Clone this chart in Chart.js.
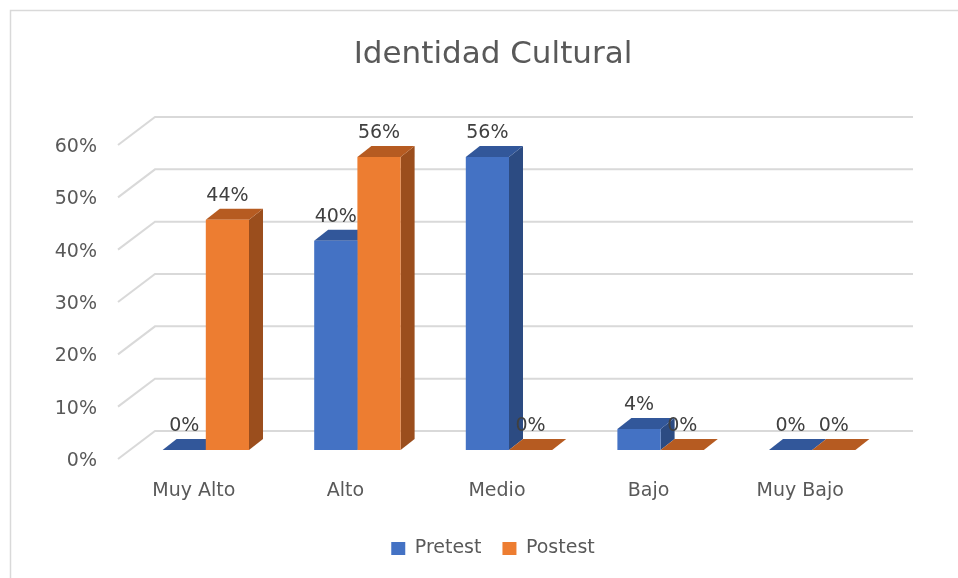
<!DOCTYPE html>
<html>
<head>
<meta charset="utf-8">
<script src="https://cdn.jsdelivr.net/npm/chart.js@4.4.1/dist/chart.umd.min.js"></script>
<style>
    body { margin: 0; background: #fff; }
    #wrap { width: 958px; height: 578px; }
</style>
</head>
<body>
<div id="wrap"><canvas id="chart"></canvas></div>
<script>
const categories = ['Muy Alto', 'Alto', 'Medio', 'Bajo', 'Muy Bajo']
const pretest = [0, 0.40, 0.56, 0.04, 0]
const postest = [0.44, 0.56, 0, 0, 0]
const yTickLabels = ['0%', '10%', '20%', '30%', '40%', '50%', '60%']

const FONT = "'DejaVu Sans', sans-serif"
const TEXT = '#595959'

// colores: frente, tapa, lateral
const blue = ['#4472c4', '#32579a', '#2c4b82']
const orange = ['#ed7d31', '#b65b21', '#9b4e1d']

// desplazamientos de la perspectiva 3D
const depth = { dx: 14, dy: -11 }
const back = { dx: 25, dy: -19 }
const front = { dx: -12, dy: 9 }



const poly = (ctx, pts, color) => {
    ctx.beginPath()
    pts.forEach(([x, y], i) => i ? ctx.lineTo(x, y) : ctx.moveTo(x, y))
    ctx.closePath()
    ctx.fillStyle = color
    ctx.fill()
}



// Fondo y marco del gráfico
const frame = {
    id: 'frame',
    beforeDraw: (chart) => {
        const ctx = chart.ctx
        ctx.save()
        ctx.fillStyle = '#fff'
        ctx.fillRect(0, 0, chart.width, chart.height)
        ctx.strokeStyle = '#d9d9d9'
        ctx.lineWidth = 1.5
        ctx.beginPath()
        ctx.moveTo(10.5, chart.height)
        ctx.lineTo(10.5, 10.5)
        ctx.lineTo(chart.width, 10.5)
        ctx.stroke()
        ctx.restore()
    }
}



// Rejilla en perspectiva, caras 3D de las barras y etiquetas de datos
const bars3d = {
    id: 'bars3d',
    beforeDatasetsDraw: (chart) => {
        const { ctx, chartArea: area, scales: { y } } = chart
        ctx.save()

        ctx.strokeStyle = '#d9d9d9'
        ctx.lineWidth = 2
        y.ticks.forEach(t => {
            const py = y.getPixelForValue(t.value)
            ctx.beginPath()
            ctx.moveTo(area.left + front.dx, py + front.dy)
            ctx.lineTo(area.left + back.dx, py + back.dy)
            ctx.lineTo(area.right + back.dx, py + back.dy)
            ctx.stroke()
        })

        const colors = [blue, orange]
        categories.forEach((c, i) => {
            chart.data.datasets.forEach((ds, d) => {
                const el = chart.getDatasetMeta(d).data[i]
                const { x, y: top, base, width } = el.getProps(['x', 'y', 'base', 'width'], true)
                const l = x - width / 2
                const r = x + width / 2
                poly(ctx, [[r, top], [r + depth.dx, top + depth.dy], [r + depth.dx, base + depth.dy], [r, base]], colors[d][2])
                poly(ctx, [[l, top], [r, top], [r + depth.dx, top + depth.dy], [l + depth.dx, top + depth.dy]], colors[d][1])
            })
        })
        ctx.restore()
    },
    afterDatasetsDraw: (chart) => {
        const ctx = chart.ctx
        ctx.save()
        ctx.font = `19px ${FONT}`
        ctx.fillStyle = '#404040'
        ctx.textAlign = 'center'
        ctx.textBaseline = 'middle'
        chart.data.datasets.forEach((ds, d) => {
            chart.getDatasetMeta(d).data.forEach((el, i) => {
                const { x, y } = el.getProps(['x', 'y'], true)
                ctx.fillText(Math.round(ds.data[i] * 100) + '%', x, y - 24)
            })
        })
        ctx.restore()
    }
}



new Chart(document.getElementById('chart'), {
    type: 'bar',
    data: {
        labels: categories,
        datasets: [
            { label: 'Pretest', data: pretest, backgroundColor: blue[0], borderWidth: 0 },
            { label: 'Postest', data: postest, backgroundColor: orange[0], borderWidth: 0 }
        ]
    },
    options: {
        responsive: true,
        maintainAspectRatio: false,
        animation: false,
        layout: { padding: { left: 28, right: 0, top: 0, bottom: 10 } },
        datasets: {
            bar: { barPercentage: 1, categoryPercentage: 0.57 }
        },
        plugins: {
            title: {
                display: true,
                text: 'Identidad Cultural',
                color: TEXT,
                font: { family: FONT, size: 31, weight: 'normal' },
                padding: { top: 36, bottom: 62.8 }
            },
            legend: {
                position: 'bottom',
                labels: {
                    color: TEXT,
                    font: { family: FONT, size: 19 },
                    boxWidth: 14,
                    boxHeight: 13,
                    padding: 21
                }
            },
            tooltip: { enabled: false }
        },
        scales: {
            x: {
                grid: { display: false, drawTicks: false },
                border: { display: false },
                ticks: {
                    color: TEXT,
                    font: { family: FONT, size: 19 },
                    padding: 29.6,
                    labelOffset: front.dx
                },
                afterFit: (scale) => { scale.height = 68 }
            },
            y: {
                min: 0,
                max: 0.6,
                grid: { display: false, drawTicks: false },
                border: { display: false },
                ticks: {
                    stepSize: 0.1,
                    color: TEXT,
                    font: { family: FONT, size: 19 },
                    padding: 33,
                    labelOffset: front.dy + 2,
                    callback: (v, i) => yTickLabels[i]
                },
                afterFit: (scale) => { scale.width = 102 }
            },
            right: {
                position: 'right',
                grid: { display: false, drawTicks: false },
                border: { display: false },
                ticks: { display: false },
                afterFit: (scale) => { scale.width = 70 }
            }
        }
    },
    plugins: [frame, bars3d]
})
</script>
</body>
</html>
